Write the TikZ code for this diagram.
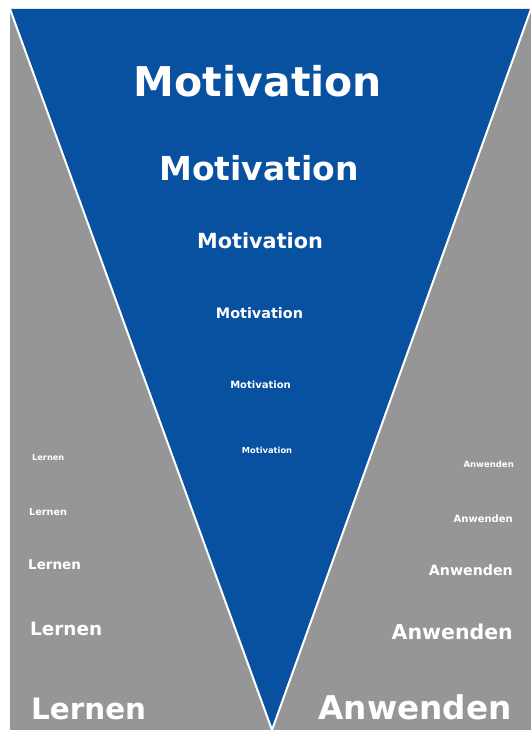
\documentclass[tikz,border=0pt]{standalone}
\usepackage{fontspec}
\setsansfont{DejaVu Sans}
\usetikzlibrary{positioning}

\definecolor{funnelblue}{RGB}{8,80,160}
\definecolor{sidegray}{RGB}{150,150,150}

\begin{document}
\begin{tikzpicture}[
    x=1pt, y=-1pt,
    word/.style={
        text=white,
        inner sep=0pt,
        font=\sffamily\bfseries\fontsize{#1}{#1}\selectfont
    },
    motive/.style={word=#1, anchor=base},
    learn/.style={word=#1, anchor=base west},
    apply/.style={word=#1, anchor=base east},
    edge/.style={draw=white, line width=2pt, line join=round}
]
\useasboundingbox (0,0) rectangle (531,730);

% === Background and funnel ===
\fill[sidegray] (10,9) rectangle (531,730);
\coordinate (tl) at (10,9);
\coordinate (tr) at (531,9);
\coordinate (apex) at (272,730);
\fill[funnelblue] (tl) -- (tr) -- (apex) -- cycle;
\draw[edge] (tl) -- (apex) -- (tr);

% === Motivation (shrinking downwards) ===
\node[motive=41] (m1) at (258,97) {Motivation};
\node[motive=33] (m2) at (259,181) {Motivation};
\node[motive=20.8] (m3) at (260,248) {Motivation};
\node[motive=14.4] (m4) at (259.5,318) {Motivation};
\node[motive=10] (m5) at (260.5,388) {Motivation};
\node[motive=8.3] (m6) at (267,453) {Motivation};

% === Lernen (growing downwards) ===
\node[learn=8.2] (l1) at (32,460) {Lernen};
\node[learn=9.7] (l2) at (29,515) {Lernen};
\node[learn=13.5] (l3) at (28,569) {Lernen};
\node[learn=18.4] (l4) at (30,635) {Lernen};
\node[learn=29.4] (l5) at (31,719) {Lernen};

% === Anwenden (growing downwards) ===
\node[apply=8.5] (a1) at (514,467) {Anwenden};
\node[apply=10] (a2) at (513,522) {Anwenden};
\node[apply=14.2] (a3) at (513,575) {Anwenden};
\node[apply=20.5] (a4) at (513,639) {Anwenden};
\node[apply=32.7] (a5) at (512,719) {Anwenden};

\end{tikzpicture}
\end{document}
